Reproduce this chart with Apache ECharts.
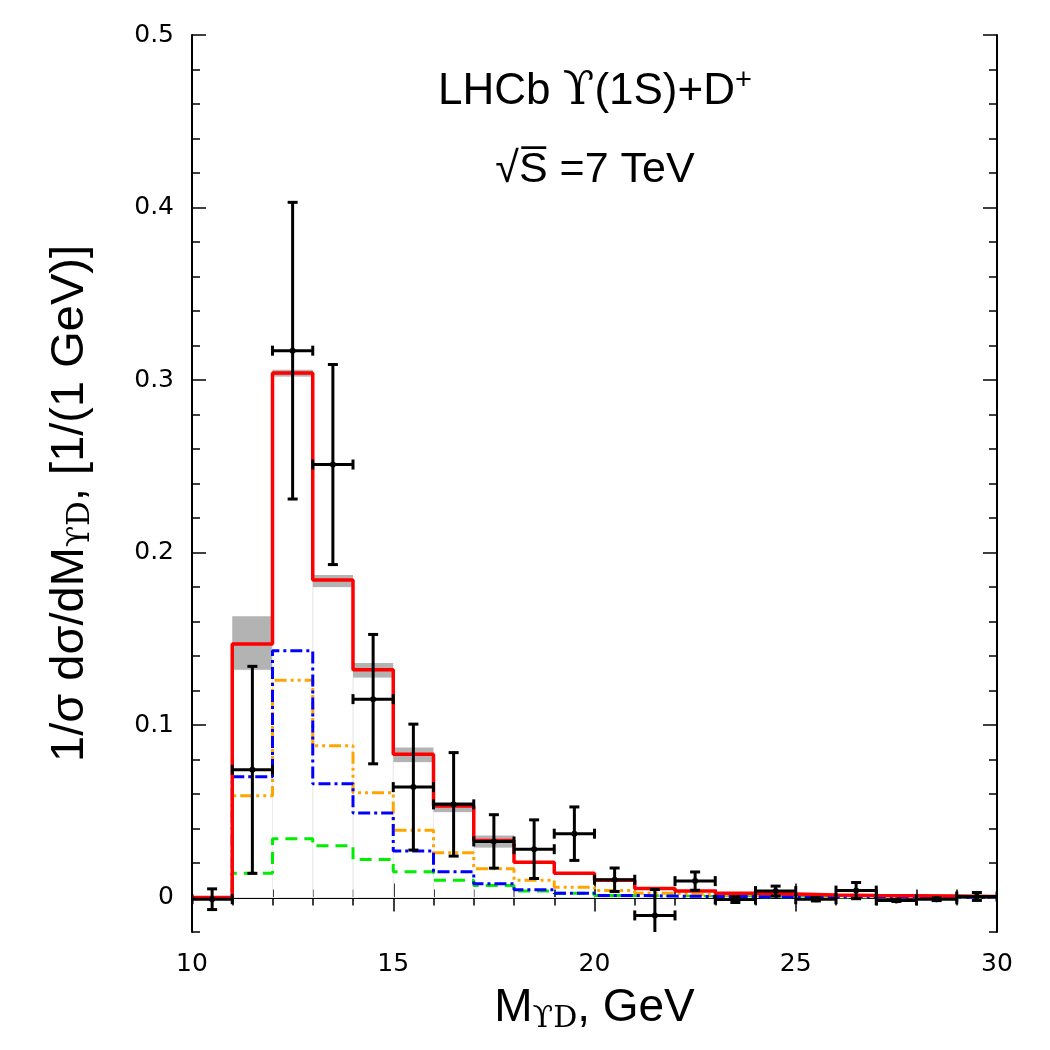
<!doctype html>
<html>
<head>
<meta charset="UTF-8">
<title>LHCb Upsilon(1S)+D+</title>
<script src="https://cdn.jsdelivr.net/npm/echarts@6/dist/echarts.min.js"></script>
<style>
  html, body { margin: 0; padding: 0; background: #fff; }
  #chart { width: 1050px; height: 1050px; }
</style>
</head>
<body>
<div id="chart"></div>
<script>
// bin left edges, 1 GeV wide
var binStart = [10, 11, 12, 13, 14, 15, 16, 17, 18, 19, 20, 21, 22, 23, 24, 25, 26, 27, 28, 29];
var binEnd = 30;

// theory histograms
var total  = [0, 0.147, 0.304, 0.184, 0.132, 0.083, 0.053, 0.033, 0.0205, 0.014, 0.010, 0.0052, 0.0037, 0.0025, 0.002, 0.0015, 0.0012, 0.001, 0.0008, 0.0006];
var totalLo = [0, 0.132, 0.302, 0.180, 0.1276, 0.0785, 0.0495, 0.029, 0.019, 0.013, 0.009, 0.0047, 0.0033, 0.0022, 0.0018, 0.0013, 0.001, 0.0009, 0.0007, 0.0005];
var totalHi = [0, 0.163, 0.306, 0.187, 0.136, 0.087, 0.0553, 0.036, 0.022, 0.015, 0.011, 0.0057, 0.0041, 0.0028, 0.0022, 0.0017, 0.0014, 0.0011, 0.0009, 0.0007];
var blue   = [0, 0.070, 0.143, 0.066, 0.049, 0.027, 0.015, 0.008, 0.0045, 0.0025, 0.0012, 0.0008, 0.0006, 0.0005, 0.0004, 0.0003, 0.0003, 0.0002, 0.0002, 0.0002];
var orange = [0, 0.059, 0.126, 0.088, 0.0607, 0.039, 0.026, 0.0166, 0.010, 0.006, 0.004, 0.0025, 0.0015, 0.001, 0.0008, 0.0006, 0.0005, 0.0004, 0.0003, 0.0002];
var green  = [0, 0.014, 0.034, 0.030, 0.022, 0.015, 0.010, 0.007, 0.0037, 0.0025, 0.0012, 0.0008, 0.0006, 0.0005, 0.0004, 0.0003, 0.0003, 0.0002, 0.0002, 0.0002];

// LHCb data points (bin centres), value and error
var dataX   = [10.5, 11.5, 12.5, 13.5, 14.5, 15.5, 16.5, 17.5, 18.5, 19.5, 20.5, 21.5, 22.5, 23.5, 24.5, 25.5, 26.5, 27.5, 28.5, 29.5];
var dataY   = [-0.001, 0.074, 0.317, 0.251, 0.115, 0.064, 0.054, 0.0325, 0.028, 0.037, 0.0103, -0.0104, 0.0095, -0.0012, 0.0037, -0.001, 0.004, -0.0017, -0.001, 0.0006];
var dataErr = [0.006, 0.060, 0.086, 0.058, 0.0375, 0.0365, 0.030, 0.0155, 0.017, 0.0155, 0.0068, 0.015, 0.0053, 0.0017, 0.0029, 0.001, 0.0047, 0.0006, 0.0008, 0.0023];

var yMajor = [0, 0.1, 0.2, 0.3, 0.4, 0.5];
var yMinor = [-0.02, 0.02, 0.04, 0.06, 0.08, 0.12, 0.14, 0.16, 0.18, 0.22, 0.24, 0.26, 0.28, 0.32, 0.34, 0.36, 0.38, 0.42, 0.44, 0.46, 0.48];

var FONT = '"Liberation Sans", Arial, Helvetica, sans-serif';
var TICKFONT = '"DejaVu Sans", ' + FONT;
var SERIF = '"DejaVu Serif", "Liberation Serif", serif';

function stepData(vals) {
  var out = [];
  for (var i = 0; i < binStart.length; i++) {
    out.push([binStart[i], vals[i]]);
  }
  out.push([binEnd, vals[vals.length - 1]]);
  return out;
}

var bandData = [];
for (var i = 1; i < 8; i++) {
  bandData.push([binStart[i], binStart[i] + 1, totalLo[i], totalHi[i]]);
}

var pointData = [];
for (var j = 0; j < dataX.length; j++) {
  pointData.push([dataX[j], dataY[j], dataErr[j]]);
}

function yAxisOf(pos, values, len, showLine) {
  return {
    type: 'value', position: pos, min: -0.02, max: 0.5,
    axisLine: { show: showLine, lineStyle: { color: '#000', width: 2 } },
    splitLine: { show: false },
    axisTick: { show: true, inside: true, length: len, customValues: values, lineStyle: { color: '#000', width: 1.5 } },
    axisLabel: showLine && pos === 'left' ? { show: true, customValues: yMajor, margin: 18, color: '#000', fontSize: 25, fontFamily: TICKFONT } : { show: false }
  };
}

var option = {
  animation: false,
  backgroundColor: '#fff',
  grid: { left: 192, right: 53, top: 35, bottom: 118, show: false },
  title: [{
    text: '{a|LHCb }{u|ϒ}{a|(1S)+D}{s|+}',
    left: 590, top: 61, textAlign: 'center',
    textStyle: {
      fontWeight: 'normal',
      rich: {
        a: { fontSize: 44, fontFamily: FONT, fontWeight: 'normal', color: '#000', lineHeight: 52 },
        u: { fontSize: 46, fontFamily: SERIF, fontWeight: 'normal', color: '#000', lineHeight: 52 },
        s: { fontSize: 29, fontFamily: FONT, fontWeight: 'normal', color: '#000', lineHeight: 20, verticalAlign: 'top' }
      }
    }
  }, {
    text: '{a|√S\u0305 =7 TeV}',
    left: 590, top: 140, textAlign: 'center',
    textStyle: {
      fontWeight: 'normal',
      rich: {
        a: { fontSize: 43, fontFamily: FONT, fontWeight: 'normal', color: '#000', lineHeight: 50 }
      }
    }
  }],
  xAxis: [{
    type: 'value', min: 10, max: 30, interval: 5, position: 'bottom',
    name: '{a|M}{b|ϒD}{a|, GeV}', nameLocation: 'middle', nameGap: 50,
    nameTextStyle: {
      rich: {
        a: { fontSize: 46, fontFamily: FONT, color: '#000', lineHeight: 52 },
        b: { fontSize: 30, fontFamily: SERIF, color: '#000', lineHeight: 16, verticalAlign: 'bottom' }
      }
    },
    axisLine: { lineStyle: { color: '#000', width: 2 } },
    splitLine: { show: false },
    axisTick: { inside: true, length: 14, lineStyle: { color: '#000', width: 1.5 } },
    minorTick: { show: true, splitNumber: 5, length: 8, lineStyle: { color: '#000', width: 1.5 } },
    axisLabel: { margin: 20, color: '#000', fontSize: 25, fontFamily: TICKFONT }
  }, {
    type: 'value', min: 10, max: 30, interval: 5, position: 'top',
    axisLine: { lineStyle: { color: '#000', width: 2 } },
    splitLine: { show: false },
    axisTick: { inside: true, length: 14, lineStyle: { color: '#000', width: 1.5 } },
    minorTick: { show: true, splitNumber: 5, length: 8, lineStyle: { color: '#000', width: 1.5 } },
    axisLabel: { show: false }
  }],
  yAxis: [
    (function () {
      var a = yAxisOf('left', yMajor, 14, true);
      a.name = '{a|1/σ dσ/dM}{b|ϒD}{a|, [1/(1 GeV)]}';
      a.nameLocation = 'middle';
      a.nameGap = 96;
      a.nameRotate = 90;
      a.nameTextStyle = {
        padding: [0, 40, 0, 0],
        rich: {
          a: { fontSize: 47, fontFamily: FONT, color: '#000', lineHeight: 52 },
          b: { fontSize: 31, fontFamily: SERIF, color: '#000', lineHeight: 16, verticalAlign: 'bottom' }
        }
      };
      return a;
    })(),
    yAxisOf('left', yMinor, 8, false),
    yAxisOf('right', yMajor, 14, true),
    yAxisOf('right', yMinor, 8, false)
  ],
  series: [{
    // uncertainty band of the total prediction
    type: 'custom',
    xAxisIndex: 0, yAxisIndex: 0,
    data: bandData,
    encode: { x: [0, 1], y: [2, 3] },
    z: 1,
    renderItem: function (params, api) {
      var p0 = api.coord([api.value(0), api.value(3)]);
      var p1 = api.coord([api.value(1), api.value(2)]);
      var z0 = api.coord([api.value(0), 0]);
      return {
        type: 'group',
        children: [{
          type: 'rect',
          shape: { x: z0[0], y: p1[1], width: p1[0] - p0[0], height: z0[1] - p1[1] },
          style: { fill: 'none', stroke: '#ececec', lineWidth: 1 }
        }, {
          type: 'rect',
          shape: { x: p0[0], y: p0[1], width: p1[0] - p0[0], height: p1[1] - p0[1] },
          style: { fill: '#b3b3b3' }
        }]
      };
    }
  }, {
    type: 'line', step: 'end', showSymbol: false, z: 3,
    data: stepData(green),
    lineStyle: { color: '#00ee00', width: 3, type: [12, 7] }
  }, {
    type: 'line', step: 'end', showSymbol: false, z: 4,
    data: stepData(orange),
    lineStyle: { color: '#ffa500', width: 3, type: [12, 4, 3, 4, 3, 4] }
  }, {
    type: 'line', step: 'end', showSymbol: false, z: 5,
    data: stepData(blue),
    lineStyle: { color: '#0000ff', width: 3, type: [12, 4, 3, 4] }
  }, {
    type: 'line', step: 'end', showSymbol: false, z: 6,
    data: stepData(total),
    lineStyle: { color: '#ff0000', width: 3.5 },
    markLine: {
      silent: true, symbol: 'none', label: { show: false },
      lineStyle: { color: '#e6e6e6', width: 1, type: 'solid' },
      data: [{ yAxis: 0 }]
    }
  }, {
    // data points with error bars
    type: 'custom',
    xAxisIndex: 0, yAxisIndex: 0,
    data: pointData,
    encode: { x: 0, y: 1 },
    z: 10,
    clip: true,
    renderItem: function (params, api) {
      var x = api.value(0), y = api.value(1), e = api.value(2);
      var c = api.coord([x, y]);
      var top = api.coord([x, y + e]);
      var bot = api.coord([x, y - e]);
      var l = api.coord([x - 0.5, y]);
      var r = api.coord([x + 0.5, y]);
      var st = { stroke: '#000', lineWidth: 3 };
      var cap = 5;
      return {
        type: 'group',
        children: [
          { type: 'line', shape: { x1: top[0], y1: top[1], x2: bot[0], y2: bot[1] }, style: st },
          { type: 'line', shape: { x1: top[0] - cap, y1: top[1], x2: top[0] + cap, y2: top[1] }, style: st },
          { type: 'line', shape: { x1: bot[0] - cap, y1: bot[1], x2: bot[0] + cap, y2: bot[1] }, style: st },
          { type: 'line', shape: { x1: l[0], y1: l[1], x2: r[0], y2: r[1] }, style: st },
          { type: 'line', shape: { x1: l[0], y1: l[1] - cap, x2: l[0], y2: l[1] + cap }, style: st },
          { type: 'line', shape: { x1: r[0], y1: r[1] - cap, x2: r[0], y2: r[1] + cap }, style: st },
          { type: 'circle', shape: { cx: c[0], cy: c[1], r: 3 }, style: { fill: '#000' } }
        ]
      };
    }
  }]
};

var chart = echarts.init(document.getElementById('chart'));
chart.setOption(option);
</script>
</body>
</html>
